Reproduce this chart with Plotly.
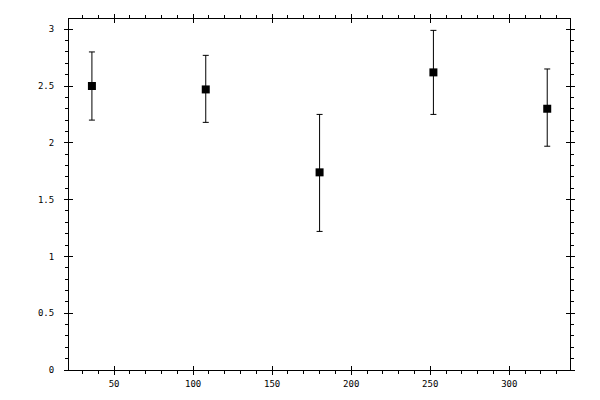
import plotly.graph_objects as go

x_vals = [36, 108, 180, 252, 324]
y_vals = [2.50, 2.47, 1.74, 2.62, 2.30]
err_plus = [0.30, 0.30, 0.51, 0.37, 0.35]
err_minus = [0.30, 0.29, 0.52, 0.37, 0.33]

x_range = [21.5, 338.4]
y_range = [0, 3.09]

font = dict(family="DejaVu Sans Mono", size=9, color="black")


def main():
    fig = go.Figure()
    fig.add_trace(go.Scatter(
        x=x_vals, y=y_vals,
        mode="markers",
        marker=dict(symbol="square", size=8, color="black"),
        error_y=dict(type="data", symmetric=False,
                     array=err_plus, arrayminus=err_minus,
                     color="black", thickness=1, width=3),
        showlegend=False,
    ))
    # invisible trace on the overlay axes so they get drawn
    fig.add_trace(go.Scatter(x=[x_vals[0]], y=[y_vals[0]], xaxis="x2", yaxis="y2",
                             mode="markers", marker=dict(opacity=0),
                             hoverinfo="skip", showlegend=False))

    base = dict(showgrid=False, zeroline=False, showline=True, linecolor="black",
                linewidth=1, mirror="ticks", tickcolor="black", tickwidth=1,
                tickfont=font, automargin=False)

    # page body adds 8px offset, margins compensate for it
    fig.update_layout(
        width=600, height=400,
        margin=dict(l=61, r=38, t=11, b=38),
        paper_bgcolor="white", plot_bgcolor="white",
        xaxis=dict(base, range=x_range, dtick=50, tick0=0, ticks="outside", ticklen=4,
                   ticklabelstandoff=1,
                   minor=dict(dtick=10, tick0=0, ticks="outside", ticklen=3,
                              tickcolor="black", showgrid=False)),
        yaxis=dict(base, range=y_range, dtick=0.5, tick0=0, ticks="outside", ticklen=4,
                   ticklabelstandoff=8,
                   minor=dict(dtick=0.1, tick0=0, ticks="outside", ticklen=3,
                              tickcolor="black", showgrid=False)),
        xaxis2=dict(base, range=x_range, dtick=50, tick0=0, ticks="inside", ticklen=4,
                    overlaying="x", showticklabels=False),
        yaxis2=dict(base, range=y_range, dtick=0.5, tick0=0, ticks="inside", ticklen=4,
                    overlaying="y", showticklabels=False),
    )
    fig.write_html("out.html")


if __name__ == '__main__':
    main()
